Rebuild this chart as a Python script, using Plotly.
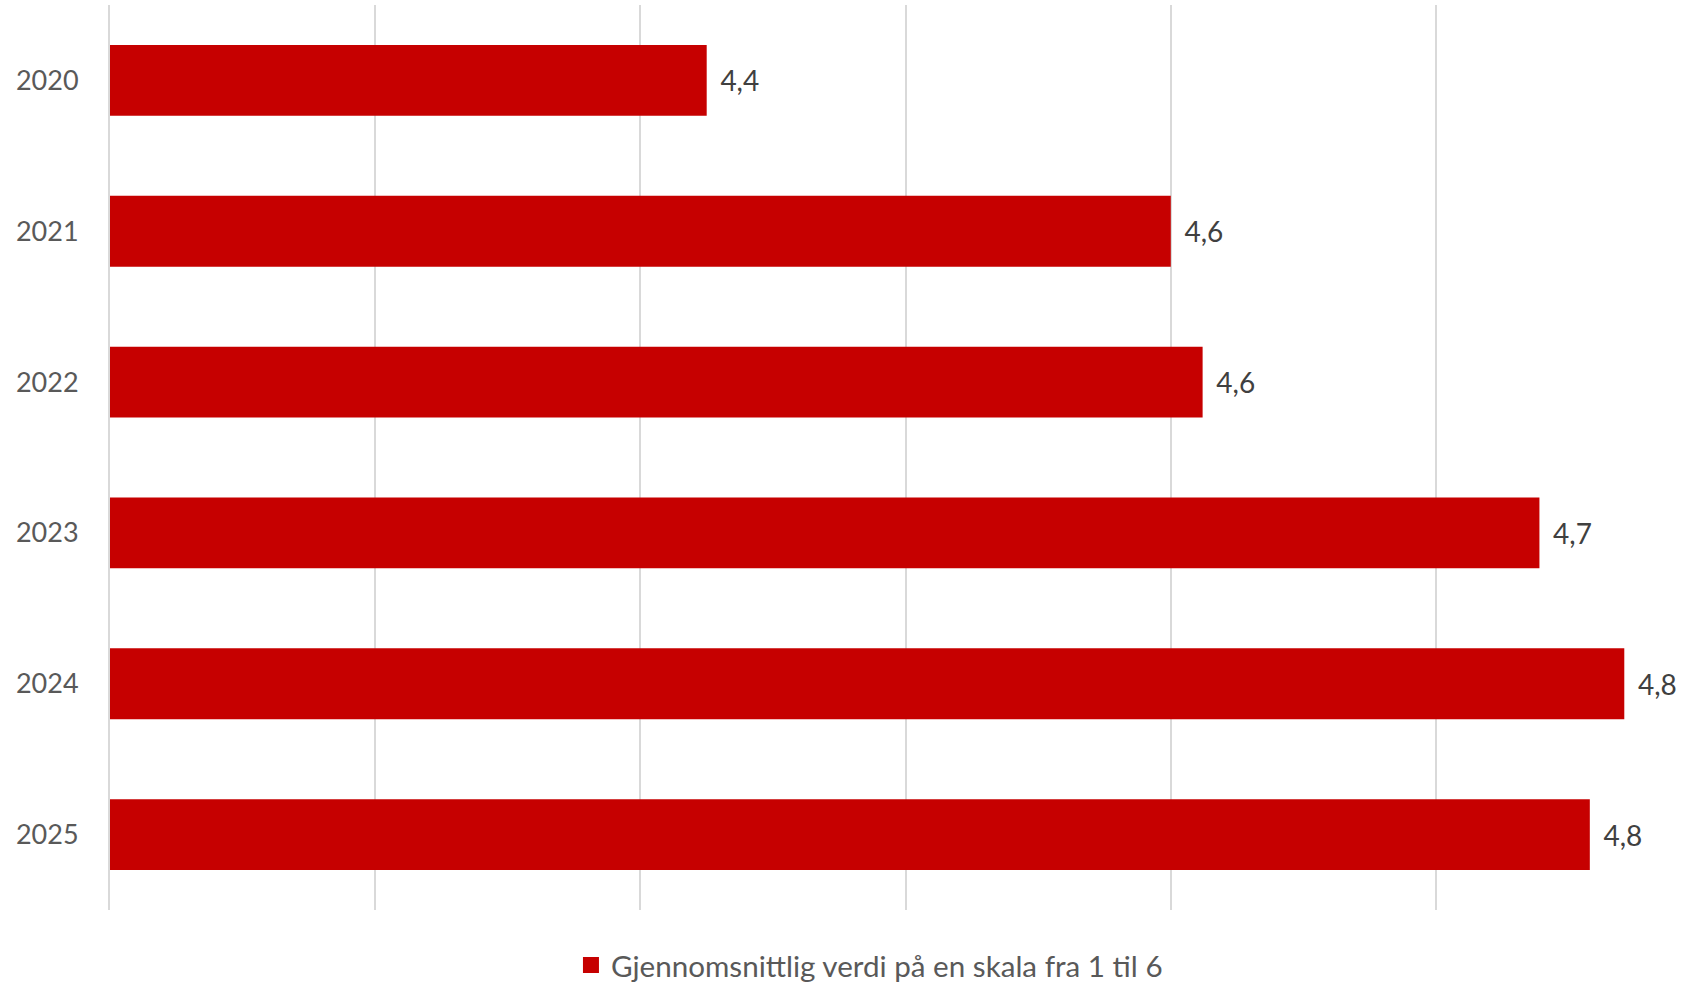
import plotly.graph_objects as go

years = ["2020", "2021", "2022", "2023", "2024", "2025"]
values = [4.425, 4.600, 4.612, 4.739, 4.771, 4.758]
series_name = "Gjennomsnittlig verdi på en skala fra 1 til 6"

W, H = 1685, 982
left, right, top, bottom = 110, 0, 5, 72
px_per_unit = 2652.0  # pixels per 1.0 value on the x axis
x_min = 4.2
x_max = x_min + (W - left - right) / px_per_unit
bar_color = "#c60000"
font_family = "Lato, Carlito, sans-serif"

fig = go.Figure()
fig.add_trace(go.Bar(
    y=years,
    x=values,
    orientation="h",
    name=series_name,
    marker=dict(color=bar_color, line=dict(width=0)),
    texttemplate="\u00a0\u2009%{x:.1f}",
    textposition="outside",
    cliponaxis=False,
    textfont=dict(family=font_family, size=28, color="#404040"),
    showlegend=False,
))
# legend-only entry so the legend swatch is a larger square, as in the original
fig.add_trace(go.Scatter(
    x=[None], y=[None],
    mode="markers",
    name=series_name,
    marker=dict(symbol="square", size=18, color=bar_color),
    showlegend=True,
    hoverinfo="skip",
))

fig.update_layout(
    width=W, height=H,
    margin=dict(l=left, r=right, t=top, b=bottom, pad=0),
    plot_bgcolor="white", paper_bgcolor="white",
    separators=", ",
    bargap=0.53,
    font=dict(family=font_family, size=27, color="#595959"),
    xaxis=dict(
        range=[x_min, x_max],
        tick0=4.2, dtick=0.1,
        showticklabels=False,
        showgrid=True, gridcolor="#d9d9d9", gridwidth=2,
        zeroline=False, showline=False, ticks="",
        fixedrange=True,
    ),
    yaxis=dict(
        autorange="reversed",
        type="category",
        showgrid=False, zeroline=False,
        showline=True, linecolor="#d9d9d9", linewidth=2,
        ticks="", ticklabelstandoff=24,
        tickfont=dict(size=27, color="#595959"),
        fixedrange=True,
    ),
    legend=dict(
        orientation="h",
        xref="container", yref="container",
        x=0.516, xanchor="center",
        y=0.017, yanchor="middle",
        font=dict(size=29.6, color="#595959"),
        itemwidth=30,
    ),
)

fig.write_html(
    "out.html",
    config={"displayModeBar": False},
    post_script="document.body.style.margin='0px';",
)
